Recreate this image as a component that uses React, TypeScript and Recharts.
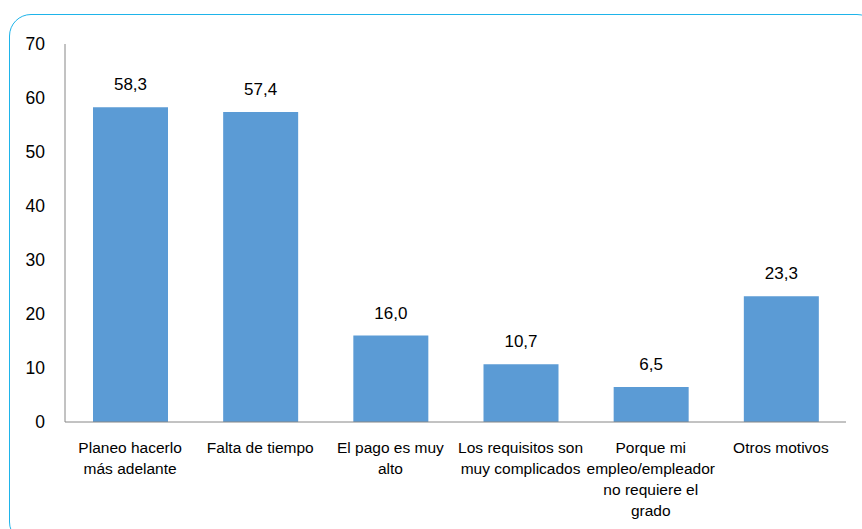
import React from "react";
import { BarChart, Bar, XAxis, YAxis, LabelList } from "recharts";

const categories = [
  "Planeo hacerlo\nmás adelante",
  "Falta de tiempo",
  "El pago es muy\nalto",
  "Los requisitos son\nmuy complicados",
  "Porque mi\nempleo/empleador\nno requiere el\ngrado",
  "Otros motivos",
];
const values = [58.3, 57.4, 16.0, 10.7, 6.5, 23.3];
const yTicks = [0, 10, 20, 30, 40, 50, 60, 70];

const data = categories.map((c, i) => ({ name: c, value: values[i] }));

const FONT = "'Liberation Sans', Arial, sans-serif";

const XTick = (props: any) => {
  const { x, y, payload } = props;
  const lines = String(payload.value).split("\n");
  return (
    <text x={x} y={y} textAnchor="middle" fontFamily={FONT} fontSize={15.5} fill="#000">
      {lines.map((l: string, i: number) => (
        <tspan key={i} x={x} y={y + 23 + i * 21}>
          {l}
        </tspan>
      ))}
    </text>
  );
};

export default function App() {
  return (
    <div style={{ position: "absolute", left: 0, top: 0, width: 862, height: 529, overflow: "hidden", background: "#fff" }}>
      <div
        style={{
          position: "absolute",
          left: 9,
          top: 14,
          width: 870,
          height: 530,
          border: "1.5px solid #1EB4EA",
          borderRadius: 22,
          boxSizing: "border-box",
        }}
      />
      <div style={{ position: "absolute", left: 0, top: 0 }}>
        <BarChart
          width={862}
          height={529}
          data={data}
          margin={{ top: 44, right: 16, bottom: 47, left: 20 }}
          barSize={75}
        >
          <XAxis
            dataKey="name"
            tickLine={false}
            axisLine={{ stroke: "#868686", strokeWidth: 1 }}
            tick={<XTick />}
            interval={0}
            height={60}
          />
          <YAxis
            domain={[0, 70]}
            ticks={yTicks}
            tickLine={false}
            axisLine={{ stroke: "#868686", strokeWidth: 1 }}
            width={45}
            tickMargin={14}
            tick={{ fontFamily: FONT, fontSize: 17.5, fill: "#000" }}
          />
          <Bar dataKey="value" fill="#5B9BD5" isAnimationActive={false}>
            <LabelList
              dataKey="value"
              position="top"
              offset={17}
              formatter={(v: any) => Number(v).toFixed(1).replace(".", ",")}
              style={{ fontFamily: FONT, fontSize: 17, fill: "#000" }}
            />
          </Bar>
        </BarChart>
      </div>
    </div>
  );
}
